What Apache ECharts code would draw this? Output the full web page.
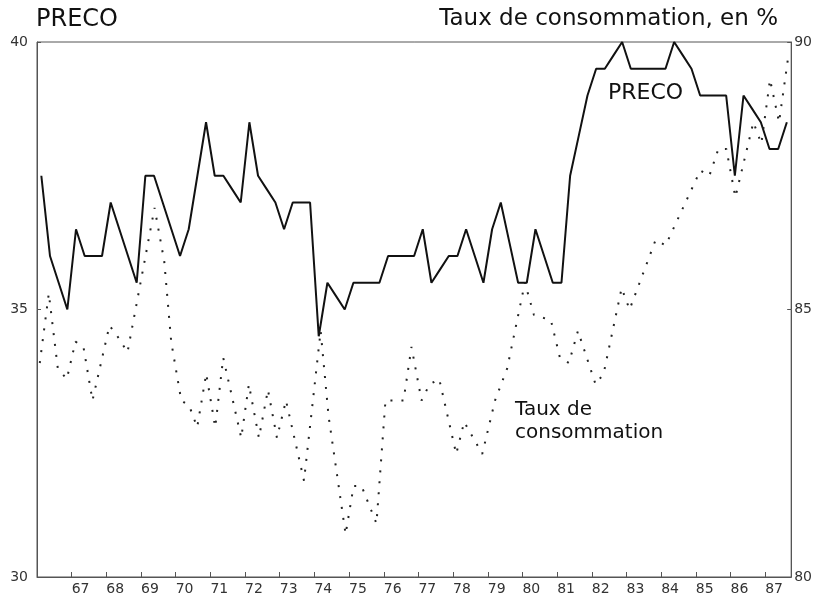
<!DOCTYPE html>
<html>
<head>
<meta charset="utf-8">
<script src="https://cdn.jsdelivr.net/npm/echarts@6/dist/echarts.min.js"></script>
<style>
  html, body { margin: 0; padding: 0; background: #fff; }
  #chart { width: 815px; height: 597px; }
</style>
</head>
<body>
<div id="chart"></div>
<script>
// PRECO, valeurs trimestrielles (échelle de gauche), de 1966 T1 à 1987 T3
const precoStartYear = 66;
const precoValues = [
  37.5, 36.0, 35.5, 35.0,   // 66
  36.5, 36.0, 36.0, 36.0,   // 67
  37.0, 36.5, 36.0, 35.5,   // 68
  37.5, 37.5, 37.0, 36.5,   // 69
  36.0, 36.5, 37.5, 38.5,   // 70
  37.5, 37.5, 37.25, 37.0,  // 71
  38.5, 37.5, 37.25, 37.0,  // 72
  36.5, 37.0, 37.0, 37.0,   // 73
  34.5, 35.5, 35.25, 35.0,  // 74
  35.5, 35.5, 35.5, 35.5,   // 75
  36.0, 36.0, 36.0, 36.0,   // 76
  36.5, 35.5, 35.75, 36.0,  // 77
  36.0, 36.5, 36.0, 35.5,   // 78
  36.5, 37.0, 36.25, 35.5,  // 79
  35.5, 36.5, 36.0, 35.5,   // 80
  35.5, 37.5, 38.25, 39.0,  // 81
  39.5, 39.5, 39.75, 40.0,  // 82
  39.5, 39.5, 39.5, 39.5,   // 83
  39.5, 40.0, 39.75, 39.5,  // 84
  39.0, 39.0, 39.0, 39.0,   // 85
  37.5, 39.0, 38.75, 38.5,  // 86
  38.0, 38.0, 38.5          // 87
];

// Taux de consommation, en % (échelle de droite)
const tauxTime = [
  66.08, 66.34, 66.60, 66.86, 67.11, 67.34, 67.60, 68.09, 68.32, 68.61,
  69.39, 69.67, 69.87, 70.16, 70.39, 70.62, 70.88, 71.14, 71.37, 71.89,
  72.11, 72.40, 72.66, 72.92, 73.18, 73.70, 74.18, 74.41, 74.90, 75.13,
  75.36, 75.79, 76.05, 76.57, 76.80, 77.09, 77.32, 77.60, 78.09, 78.32,
  78.84, 79.21, 79.56, 80.07, 80.33, 80.82, 81.08, 81.34, 81.60, 82.11,
  82.34, 82.86, 83.09, 83.84, 84.13, 85.13, 85.39, 85.65, 85.88, 86.14,
  86.66, 86.89, 87.14, 87.40, 87.66
];
const tauxValues = [
  84.0, 85.3, 83.9, 83.7, 84.4, 84.3, 83.3, 84.7, 84.5, 84.2,
  86.9, 85.9, 84.4, 83.3, 83.2, 82.8, 83.8, 82.8, 84.1, 82.6,
  83.6, 82.6, 83.5, 82.6, 83.3, 81.8, 84.6, 83.0, 80.8, 81.7,
  81.7, 81.0, 83.3, 83.3, 84.3, 83.3, 83.6, 83.7, 82.3, 82.9,
  82.3, 83.3, 83.9, 85.5, 84.9, 84.8, 84.1, 84.0, 84.6, 83.6,
  83.8, 85.4, 85.0, 86.3, 86.2, 87.6, 87.5, 88.0, 88.0, 87.1,
  88.5, 88.1, 89.3, 88.5, 89.7
];

const xMin = 66, xMax = 87.75;
const leftMin = 30, leftMax = 40;
const rightMin = 80, rightMax = 90;

const precoData = precoValues.map((v, i) => [precoStartYear + 0.125 + i * 0.25, v]);
const tauxData = tauxTime.map((t, i) => [t, tauxValues[i]]);

const font = '"DejaVu Sans", sans-serif';
const axisColor = '#555';
const labelStyle = { color: '#333', fontSize: 14, fontFamily: font };

const chart = echarts.init(document.getElementById('chart'));
chart.setOption({
  animation: false,
  backgroundColor: '#fff',
  grid: {
    left: 37, right: 21, top: 42, bottom: 20,
    show: true, borderColor: axisColor, borderWidth: 1
  },
  xAxis: {
    type: 'value',
    min: xMin, max: xMax, interval: 1,
    axisLine: { show: true, lineStyle: { color: axisColor, width: 1 } },
    axisTick: { show: true, inside: true, length: 5, lineStyle: { color: axisColor } },
    axisLabel: Object.assign({}, labelStyle, {
      margin: 5,
      align: 'left',
      formatter: v => (Number.isInteger(v) && v > xMin) ? String(v) : ''
    }),
    splitLine: { show: false }
  },
  yAxis: [{
    type: 'value',
    min: leftMin, max: leftMax, interval: 5,
    axisLine: { show: true, lineStyle: { color: axisColor, width: 1 } },
    axisTick: { show: true, inside: true, length: 4, lineStyle: { color: axisColor } },
    axisLabel: Object.assign({}, labelStyle, { margin: 9 }),
    splitLine: { show: false }
  }, {
    type: 'value',
    position: 'right',
    min: rightMin, max: rightMax, interval: 5,
    axisLine: { show: true, lineStyle: { color: axisColor, width: 1 } },
    axisTick: { show: true, inside: true, length: 4, lineStyle: { color: axisColor } },
    axisLabel: Object.assign({}, labelStyle, { margin: 3 }),
    splitLine: { show: false }
  }],
  series: [{
    name: 'PRECO',
    type: 'line',
    yAxisIndex: 0,
    data: precoData,
    symbol: 'none',
    lineStyle: { color: '#111', width: 2 }
  }, {
    name: 'Taux de consommation',
    type: 'line',
    yAxisIndex: 1,
    data: tauxData,
    symbol: 'none',
    lineStyle: { color: '#222', width: 2, type: [2, 9] }
  }],
  graphic: [
    { type: 'text', left: 36, top: 8,
      style: { text: 'PRECO', font: '24px ' + font, fill: '#111' } },
    { type: 'text', right: 37, top: 8,
      style: { text: 'Taux de consommation, en %', font: '23px ' + font, fill: '#111' } },
    { type: 'text', left: 608, top: 82,
      style: { text: 'PRECO', font: '22px ' + font, fill: '#111' } },
    { type: 'text', left: 515, top: 398,
      style: { text: 'Taux de\nconsommation', font: '20px ' + font, fill: '#111', lineHeight: 23 } }
  ]
});
</script>
</body>
</html>
